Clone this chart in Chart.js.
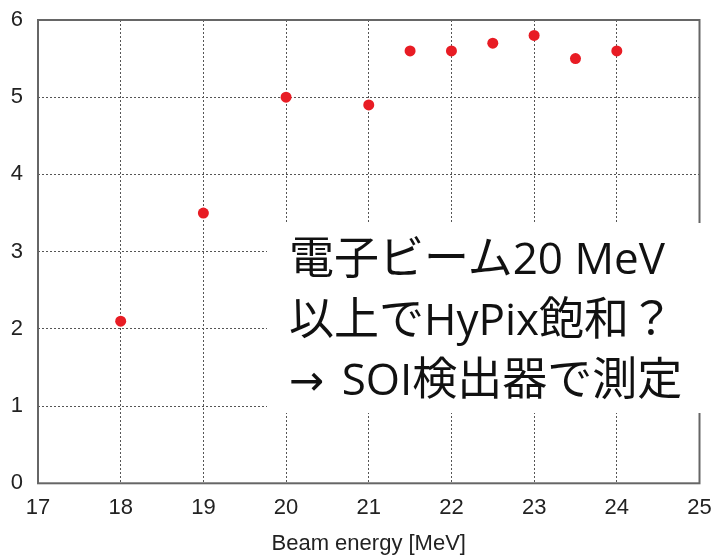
<!DOCTYPE html>
<html lang="ja">
<head>
<meta charset="utf-8">
<script src="https://cdn.jsdelivr.net/npm/chart.js@4.4.1/dist/chart.umd.min.js"></script>
<style>
  html, body { margin: 0; padding: 0; background: #fff; }
  #wrap { position: relative; width: 717px; height: 555px; }
  #note {
    position: absolute; left: 267px; top: 223px; width: 450px; height: 190px;
    background: #fff; box-sizing: border-box; padding: 3px 0 0 22px;
    font-family: "Noto Sans CJK JP", sans-serif; font-size: 45px; line-height: 57.5px;
    color: #111; white-space: nowrap;
  }
  #note .lat { font-family: "Open Sans", "Noto Sans CJK JP", sans-serif; font-size: 44px; }
  #note .arr { font-family: "DejaVu Sans", sans-serif; font-size: 42px; margin-right: 6px; }
</style>
</head>
<body>
<div id="wrap">
  <canvas id="c" width="717" height="555"></canvas>
  <div id="note">電子ビーム<span class="lat">20 MeV</span><br>以上で<span class="lat">HyPix</span>飽和？<br><span class="arr">→</span><span class="lat"> SOI</span>検出器で測定</div>
</div>
<script>
// Beam energy (MeV) and measured value at each energy
const energies = [18, 19, 20, 21, 21.5, 22, 22.5, 23, 23.5, 24];
const values = [2.1, 3.5, 5.0, 4.9, 5.6, 5.6, 5.7, 5.8, 5.5, 5.6];
const xRange = [17, 25];
const yRange = [0, 6];
const xTitle = 'Beam energy [MeV]';

const points = energies.map((e, i) => ({ x: e, y: values[i] }));

// full box frame around the plot area
const frame = {
  id: 'frame',
  afterDatasetsDraw(chart) {
    const { ctx, chartArea: a } = chart;
    ctx.save();
    ctx.strokeStyle = '#666';
    ctx.lineWidth = 2;
    ctx.strokeRect(a.left, a.top, a.right - a.left, a.bottom - a.top);
    ctx.restore();
  }
};

// fixed axis sizes; label overflow is absorbed by the layout padding
function fixSize(prop, value) {
  return (s) => {
    s[prop] = value;
    s.paddingTop = s.paddingBottom = s.paddingLeft = s.paddingRight = 0;
  };
}

const tickFont = { family: 'Liberation Sans, Arial, sans-serif', size: 22 };

new Chart(document.getElementById('c'), {
  type: 'scatter',
  data: {
    datasets: [{
      data: points,
      backgroundColor: '#e81c24',
      borderColor: '#e81c24',
      pointRadius: 5.5,
      pointHoverRadius: 5.5,
      borderWidth: 0
    }]
  },
  options: {
    responsive: false,
    animation: false,
    events: [],
    layout: { padding: { top: 20, right: 17.5, left: 0, bottom: 0 } },
    plugins: { legend: { display: false }, tooltip: { enabled: false } },
    scales: {
      x: {
        type: 'linear',
        min: xRange[0], max: xRange[1],
        ticks: { stepSize: 1, color: '#222', font: tickFont, padding: 11, maxRotation: 0 },
        grid: { color: '#555', lineWidth: 1, drawTicks: false },
        border: { display: false, dash: [2, 2] },
        title: {
          display: true, text: xTitle, color: '#222',
          font: { family: 'Liberation Sans, Arial, sans-serif', size: 22, lineHeight: 1 },
          padding: { top: 0, bottom: 0 }
        },
        afterFit: fixSize('height', 71.7)
      },
      y: {
        min: yRange[0], max: yRange[1],
        ticks: { stepSize: 1, color: '#222', font: tickFont, padding: 15 },
        grid: { color: '#555', lineWidth: 1, drawTicks: false },
        border: { display: false, dash: [2, 2] },
        afterFit: fixSize('width', 38)
      }
    }
  },
  plugins: [frame]
});
</script>
</body>
</html>
